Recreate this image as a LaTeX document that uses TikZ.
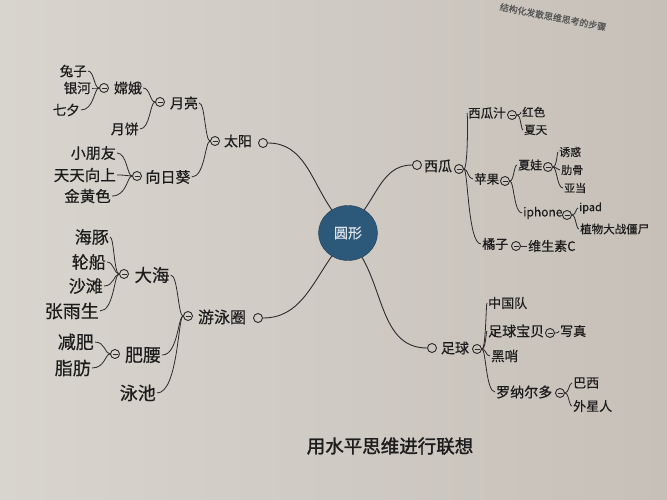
\documentclass[tikz,border=0pt]{standalone}
\usepackage{fontspec}
\setmainfont[FakeBold=0.4]{Noto Sans CJK SC}
\newfontfamily\capfont[FakeBold=1.6]{Noto Sans CJK SC}
\usetikzlibrary{calc,shapes.geometric}

\definecolor{paperl}{HTML}{D8D4CE}
\definecolor{paperr}{HTML}{C6C0B8}
\definecolor{inkline}{HTML}{2B2B2B}
\definecolor{inktext}{HTML}{1C1C1C}
\definecolor{rootblue}{HTML}{2C587A}

\tikzset{
  sz/.style={font=\fontsize{#1}{#1}\selectfont},
  word/.style={text=inktext,inner sep=1pt},
  wl/.style={word,anchor=east},
  wr/.style={word,anchor=west},
  knob/.style={circle,draw=inkline,line width=0.9pt,minimum size=9pt,inner sep=0pt},
  fold/.style={knob,path picture={\draw[inkline,line width=0.7pt]
      ([xshift=-2.5pt]path picture bounding box.center) -- ([xshift=2.5pt]path picture bounding box.center);}},
  lbr/.style={to path={.. controls ($(\tikztostart)+(-#1,0)$) and ($(\tikztostart |- \tikztotarget)+(-#1,0)$) .. (\tikztotarget)}},
  lbr/.default=5,
  rbr/.style={to path={.. controls ($(\tikztostart)+(#1,0)$) and ($(\tikztostart |- \tikztotarget)+(#1,0)$) .. (\tikztotarget)}},
  rbr/.default=4,
}

\begin{document}
\begin{tikzpicture}[x=1pt,y=-1pt,
    every edge/.style={draw=inkline,line width=0.8pt}]
  \useasboundingbox (0,0) rectangle (667,500);
  \shade[left color=paperl,right color=paperr] (0,0) rectangle (667,500);

  % centre
  \node[ellipse,fill=rootblue,draw=rootblue!70!black,minimum width=59pt,minimum height=55pt,
        text=white!85!rootblue,sz=14] (root) at (348,233) {圆形};

  % page header and caption
  \node[rotate=-11,text=inktext!75,sz=9] (header) at (553,17) {结构化发散思维思考的步骤};
  \node[text=inktext,font=\capfont\fontsize{18.5}{18.5}\selectfont] (title) at (390,446) {用水平思维进行联想};

  % left top: sun
  \node[word,sz=14] (sun) at (238,141) {太阳};
  \node[knob] (sunc) at (263,143) {};
  \node[fold] (sunm) at (215,141) {};
  \node[word,sz=14] (moon) at (184,103) {月亮};
  \node[fold] (moonm) at (160,102) {};
  \node[word,sz=14] (chang) at (128,88) {嫦娥};
  \node[fold] (changm) at (104,88) {};
  \node[wl,sz=13.5] (rabbit) at (88,71) {兔子};
  \node[wl,sz=13.5] (galaxy) at (92,88) {银河};
  \node[wl,sz=13.5] (qixi) at (81,110) {七夕};
  \node[wl,sz=14] (cake) at (140,129) {月饼};
  \node[word,sz=15] (flower) at (168,177) {向日葵};
  \node[fold] (flowerm) at (137,176) {};
  \node[wl,sz=15] (kid) at (117,153) {小朋友};
  \node[wl,sz=15.5] (upward) at (117,175) {天天向上};
  \node[wl,sz=15.5] (golden) at (112,196) {金黄色};

  % left bottom: swim ring
  \node[word,sz=16] (swim) at (222,317) {游泳圈};
  \node[knob] (swimc) at (258,318) {};
  \node[fold] (swimm) at (188,316) {};
  \node[word,sz=17.5] (sea) at (152,275) {大海};
  \node[fold] (seam) at (124,274) {};
  \node[wl,sz=17] (dolphin) at (110,237) {海豚};
  \node[wl,sz=17] (ship) at (107,262) {轮船};
  \node[wl,sz=17] (beach) at (104,286) {沙滩};
  \node[wl,sz=18] (singer) at (100,311) {张雨生};
  \node[word,sz=18] (waist) at (143,355) {肥腰};
  \node[fold] (waistm) at (115,354) {};
  \node[wl,sz=18] (diet) at (95,342) {减肥};
  \node[wl,sz=18] (fat) at (92,368) {脂肪};
  \node[wl,sz=18] (pool) at (157,393) {泳池};

  % right top: watermelon
  \node[word,sz=14] (melon) at (438,166) {西瓜};
  \node[knob] (melonc) at (417,165) {};
  \node[fold] (melonm) at (459,169) {};
  \node[wr,sz=12.5] (juice) at (467,113) {西瓜汁};
  \node[fold] (juicem) at (512,115) {};
  \node[wr,sz=11.5] (red) at (521,112) {红色};
  \node[wr,sz=11.5] (summer) at (523,130) {夏天};
  \node[wr,sz=12.5] (apple) at (473,179) {苹果};
  \node[fold] (applem) at (505,181) {};
  \node[wr,sz=12] (eve) at (517,165) {夏娃};
  \node[fold] (evem) at (548,167) {};
  \node[wr,sz=11] (lure) at (558,152) {诱惑};
  \node[wr,sz=11] (rib) at (560,170) {肋骨};
  \node[wr,sz=11] (adam) at (563,188) {亚当};
  \node[wr,sz=12] (iphone) at (522,213) {iphone};
  \node[fold] (iphonem) at (567,215) {};
  \node[wr,sz=11] (ipad) at (578,208) {ipad};
  \node[wr,sz=11.5] (pvz) at (579,229) {植物大战僵尸};
  \node[wr,sz=13] (orange) at (481,244) {橘子};
  \node[fold] (orangem) at (516,246) {};
  \node[wr,sz=13] (vitc) at (527,246) {维生素C};

  % right bottom: football
  \node[word,sz=14] (ball) at (455,348) {足球};
  \node[knob] (ballc) at (432,348) {};
  \node[fold] (ballm) at (477,349) {};
  \node[wr,sz=13] (team) at (487,303) {中国队};
  \node[wr,sz=14] (baby) at (487,331) {足球宝贝};
  \node[fold] (babym) at (550,333) {};
  \node[wr,sz=13] (photo) at (559,331) {写真};
  \node[wr,sz=13.5] (whistle) at (490,356) {黑哨};
  \node[wr,sz=14] (ronaldo) at (495,392) {罗纳尔多};
  \node[fold] (ronaldom) at (560,393) {};
  \node[wr,sz=13] (brazil) at (572,383) {巴西};
  \node[wr,sz=13] (alien) at (572,406) {外星人};

  % main branches
  \begin{scope}[every path/.style={draw=inkline,line width=0.9pt}]
    \path (sunc.east) to[out=0,in=125] (root);
    \path (swimc.east) to[out=0,in=235] (root);
    \path (melonc.west) to[out=180,in=55] (root);
    \path (ballc.west) to[out=180,in=-60] (root);
  \end{scope}

  % brackets
  \path (sunm.west) edge[lbr] (moon.east) edge[lbr] (flower.east);
  \path (moonm.west) edge[lbr] (chang.east) edge[lbr] (cake.east);
  \path (changm.west) edge[lbr] (rabbit.east) edge[lbr] (galaxy.east) edge[lbr] (qixi.east);
  \path (flowerm.west) edge[lbr] (kid.east) edge[lbr] (upward.east) edge[lbr] (golden.east);
  \path (swimm.west) edge[lbr] (sea.east) edge[lbr] (waist.east) edge[lbr] (pool.east);
  \path (seam.west) edge[lbr] (dolphin.east) edge[lbr] (ship.east) edge[lbr] (beach.east) edge[lbr] (singer.east);
  \path (waistm.west) edge[lbr] (diet.east) edge[lbr] (fat.east);

  \path (melonm.east) edge[rbr] (juice.west) edge[rbr] (apple.west) edge[rbr] (orange.west);
  \path (juicem.east) edge[rbr] (red.west) edge[rbr] (summer.west);
  \path (applem.east) edge[rbr] (eve.west) edge[rbr] (iphone.west);
  \path (evem.east) edge[rbr] (lure.west) edge[rbr] (rib.west) edge[rbr] (adam.west);
  \path (iphonem.east) edge[rbr] (ipad.west) edge[rbr] (pvz.west);
  \path (orangem.east) edge[rbr] (vitc.west);
  \path (ballm.east) edge[rbr] (team.west) edge[rbr] (baby.west) edge[rbr] (whistle.west) edge[rbr] (ronaldo.west);
  \path (babym.east) edge[rbr] (photo.west);
  \path (ronaldom.east) edge[rbr] (brazil.west) edge[rbr] (alien.west);
\end{tikzpicture}
\end{document}
